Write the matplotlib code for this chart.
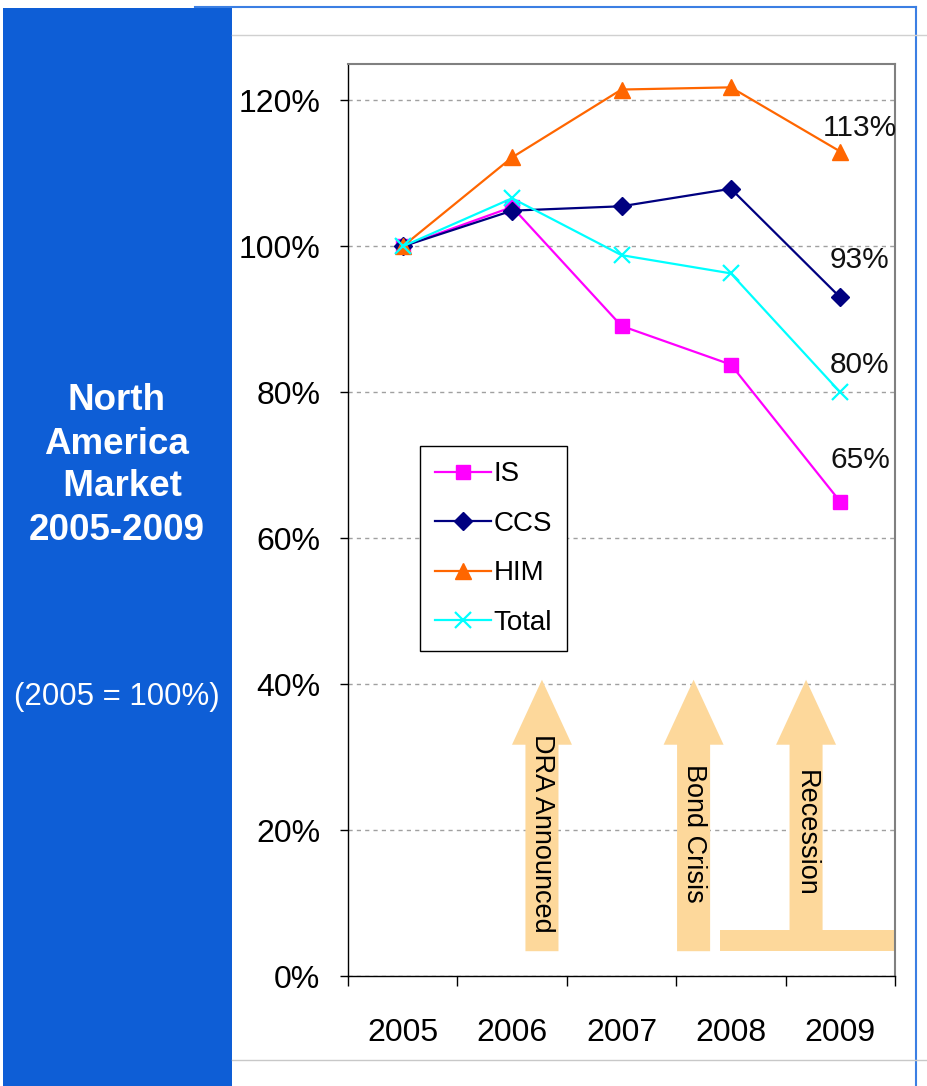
import matplotlib
matplotlib.use("Agg")
import matplotlib.pyplot as plt
from matplotlib.patches import Rectangle
from matplotlib.lines import Line2D
from matplotlib.ticker import FixedLocator, FuncFormatter

# Indici di mercato (2005 = 100%)
years = ["2005", "2006", "2007", "2008", "2009"]
is_vals = [100, 105.4, 89.1, 83.8, 65]
ccs_vals = [100, 104.9, 105.5, 107.9, 93]
him_vals = [100, 112.2, 121.5, 121.8, 113]
total_vals = [100, 106.6, 98.8, 96.3, 80]

events = ["DRA Announced", "Bond Crisis", "Recession"]

plt.rcParams["font.family"] = ["Liberation Sans", "DejaVu Sans"]

fig = plt.figure(figsize=(9.27, 10.86), dpi=100)
W, H = 927, 1086

def fx(px):
    return px / W

def fy(py):
    return 1 - py / H

# Pannello blu laterale
fig.patches.append(Rectangle((fx(3), 0), fx(229), fy(8), transform=fig.transFigure,
                             facecolor="#0E5ED6", edgecolor="none", zorder=0))
# Cornice e linee grigie
fig.add_artist(Line2D([fx(195), fx(916)], [fy(7), fy(7)], color="#3B7FE3", lw=1.5))
fig.add_artist(Line2D([fx(916), fx(916)], [fy(7), 0], color="#3B7FE3", lw=1.5))
fig.add_artist(Line2D([fx(232), 1], [fy(35), fy(35)], color="#D0D0D0", lw=1))
fig.add_artist(Line2D([fx(232), 1], [fy(1060), fy(1060)], color="#C8C8C8", lw=1))

for txt, py in zip(["North", "America", " Market", "2005-2009"], [401, 444, 487, 530]):
    fig.text(fx(117), fy(py), txt, ha="center", va="center", color="white",
             fontsize=26.5, fontweight="bold")
fig.text(fx(117), fy(697), "(2005 = 100%)", ha="center", va="center", color="white",
         fontsize=22.5)

ax = fig.add_axes([fx(348), fy(976), fx(547), (976 - 64) / H])
x = list(range(len(years)))

ax.plot(x, is_vals, color="#FF00FF", lw=1.6, marker="s", ms=10, label="IS", zorder=3)
ax.plot(x, ccs_vals, color="#000080", lw=1.6, marker="D", ms=9, label="CCS", zorder=4)
ax.plot(x, him_vals, color="#FF6600", lw=1.6, marker="^", ms=11, label="HIM", zorder=5)
ax.plot(x, total_vals, color="#00FFFF", lw=1.6, marker="x", ms=11, mew=1.6,
        label="Total", zorder=6)

ax.set_xlim(-0.5, len(years) - 0.5)
ax.set_ylim(0, 125)

# Etichette finali 2009
label_dy = [3.2, 5.2, 3.8, 5.7]
for vals, dy in zip([him_vals, ccs_vals, total_vals, is_vals], label_dy):
    ax.text(4.18, vals[-1] + dy, f"{vals[-1]:.0f}%", ha="center", va="center",
            fontsize=21.5, color="#111111")

# Frecce degli eventi
arrow_x = [1.273, 2.659, 3.687]
shaft, head = 0.151, 0.274
tip, neck, base = 40.6, 31.7, 3.4
peach = "#FDD89B"
for name, cx in zip(events, arrow_x):
    bottom = base if name != "Recession" else 6.3
    ax.fill([cx - shaft, cx - shaft, cx - head, cx, cx + head, cx + shaft, cx + shaft],
            [bottom, neck, neck, tip, neck, neck, bottom],
            color=peach, lw=0, zorder=1)
    ax.text(cx, 19.5, name, rotation=-90, ha="center", va="center",
            fontsize=19.5, color="black", zorder=2)
ax.fill([2.90, 4.49, 4.49, 2.90], [3.4, 3.4, 6.3, 6.3], color=peach, lw=0, zorder=1,
        clip_on=False)

# Assi
ax.yaxis.set_major_locator(FixedLocator([0, 20, 40, 60, 80, 100, 120]))
ax.yaxis.set_major_formatter(FuncFormatter(lambda v, p: f"{v:.0f}%"))
ax.grid(axis="y", color="#A0A0A0", linestyle=(0, (3, 3)), lw=1)
ax.set_axisbelow(True)
ax.xaxis.set_major_locator(FixedLocator([i - 0.5 for i in range(len(years) + 1)]))
ax.xaxis.set_major_formatter(FuncFormatter(lambda v, p: ""))
ax.xaxis.set_minor_locator(FixedLocator(x))
ax.set_xticklabels(years, minor=True)
ax.tick_params(axis="x", which="major", direction="out", length=7, width=1)
ax.tick_params(axis="x", which="minor", length=0, pad=30, labelsize=23)
ax.tick_params(axis="y", direction="out", length=6, width=1, pad=14, labelsize=23)
for s in ["top", "right"]:
    ax.spines[s].set_color("#808080")
    ax.spines[s].set_linewidth(1.5)
for s in ["left", "bottom"]:
    ax.spines[s].set_color("black")
    ax.spines[s].set_linewidth(1)

leg = ax.legend(loc="upper left", bbox_to_anchor=(fx(420), fy(446)),
                bbox_transform=fig.transFigure, fontsize=20, frameon=True,
                fancybox=False, edgecolor="black", framealpha=1, borderaxespad=0,
                handlelength=2.0, labelspacing=0.85, borderpad=0.55, handletextpad=0.1)
leg.get_frame().set_linewidth(1)

fig.savefig("out.png", dpi=100)
